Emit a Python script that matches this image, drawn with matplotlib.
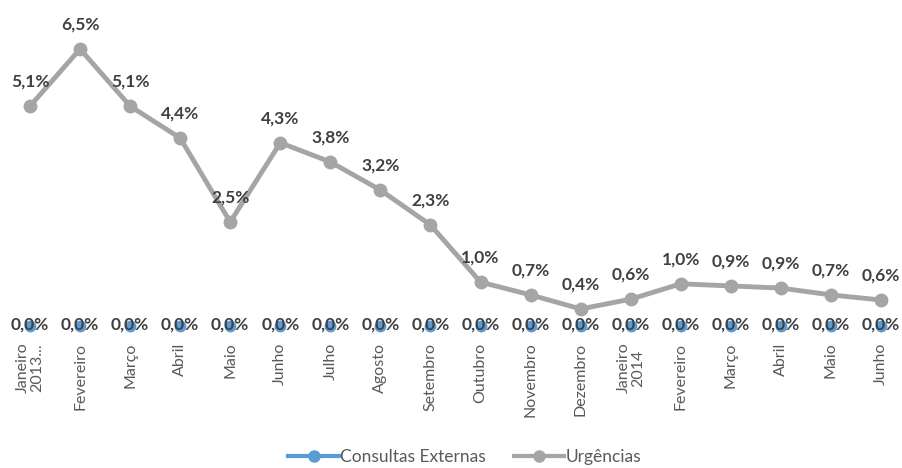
import matplotlib
matplotlib.use("Agg")
import matplotlib.pyplot as plt
from matplotlib.lines import Line2D

plt.rcParams['font.family'] = ['Lato', 'DejaVu Sans']

# data
meses = ['Janeiro\n2013...', 'Fevereiro', 'Março', 'Abril', 'Maio', 'Junho', 'Julho',
         'Agosto', 'Setembro', 'Outubro', 'Novembro', 'Dezembro', 'Janeiro\n2014',
         'Fevereiro', 'Março', 'Abril', 'Maio', 'Junho']
consultas = [0.0] * 18
urgencias = [5.16, 6.50, 5.16, 4.41, 2.44, 4.30, 3.85, 3.19, 2.37, 1.03, 0.73, 0.40,
             0.63, 0.99, 0.94, 0.89, 0.73, 0.61]
urg_labels = ['5,1%', '6,5%', '5,1%', '4,4%', '2,5%', '4,3%', '3,8%', '3,2%', '2,3%',
              '1,0%', '0,7%', '0,4%', '0,6%', '1,0%', '0,9%', '0,9%', '0,7%', '0,6%']

blue = '#5b9bd5'
gray = '#a5a5a5'
txt = '#404040'

fig = plt.figure(figsize=(9.03, 4.68), dpi=100)
ax = fig.add_axes([30/903, 142/468, 851/903, 277/468])
x = list(range(len(meses)))

# blue series: only markers visible (line hidden in the original)
ax.plot(x, consultas, color=blue, lw=0, marker='o', ms=7.5, clip_on=False, zorder=2)
ax.plot(x, urgencias, color=gray, lw=3.5, marker='o', ms=9, clip_on=False, zorder=3)

for i, v in enumerate(urgencias):
    ax.annotate(urg_labels[i], (i, v), xytext=(0, 12), textcoords='offset points',
                ha='center', va='bottom', fontsize=12.5, fontweight='bold', color=txt)
for i, v in enumerate(consultas):
    ax.annotate('0,0%', (i, v), xytext=(0, 1), textcoords='offset points',
                ha='center', va='center', fontsize=12.5, fontweight='bold', color=txt, zorder=5)

ax.set_xlim(0, 17)
ax.set_ylim(0, 6.5)
ax.set_xticks(x)
ax.set_xticklabels(meses, rotation=90, fontsize=11.5, color='#595959', va='top',
                   linespacing=1.0)
ax.tick_params(axis='x', length=0, pad=12)
ax.set_yticks([])
for s in ax.spines.values():
    s.set_visible(False)

handles = [Line2D([], [], color=blue, lw=3, marker='o', ms=8),
           Line2D([], [], color=gray, lw=3, marker='o', ms=8)]
fig.legend(handles, ['Consultas Externas', 'Urgências'], loc='center',
           bbox_to_anchor=(0.515, 11/468), ncol=2, frameon=False, fontsize=12.5,
           labelcolor='#595959', handlelength=2.9, columnspacing=1.6, handletextpad=0.1)

fig.savefig('out.png', dpi=100)
